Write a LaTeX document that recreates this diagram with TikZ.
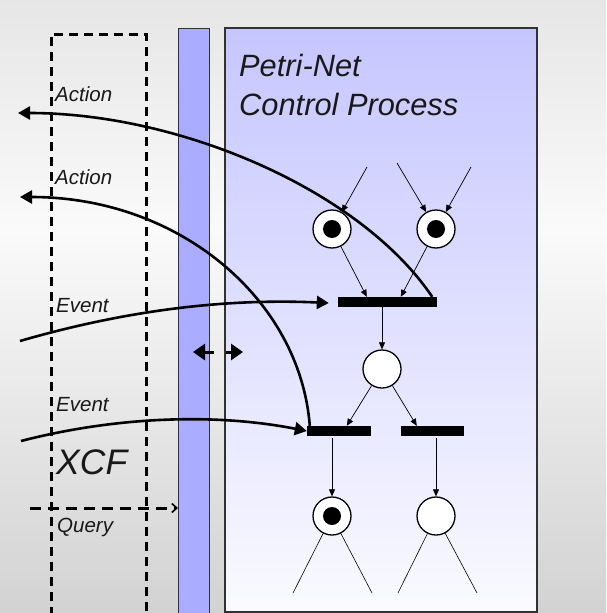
\documentclass[tikz,border=0pt]{standalone}
\usepackage{fontspec}
\setmainfont{Liberation Sans}
\usetikzlibrary{arrows.meta,calc}
\definecolor{bgtop}{RGB}{230,230,230}
\definecolor{bgmid}{RGB}{250,250,250}
\definecolor{bgbot}{RGB}{210,210,210}
\definecolor{barblue}{RGB}{170,172,255}
\definecolor{boxtop}{RGB}{198,198,255}
\definecolor{boxbot}{RGB}{250,250,255}
\definecolor{boxedge}{RGB}{50,50,50}
\begin{document}
\begin{tikzpicture}[x=1pt,y=-1pt,
  place/.style={circle,draw=black,line width=1.3pt,fill=white,minimum size=38pt,inner sep=0pt},
  token/.style={circle,fill=black,minimum size=18pt,inner sep=0pt},
  trans/.style={rectangle,fill=black,minimum height=10pt,inner sep=0pt},
  arc/.style={line width=0.7pt,-{Triangle[length=7pt,width=6pt]}},
  stub/.style={line width=0.6pt},
  bigarrow/.style={line width=2.6pt,-{Triangle[length=12pt,width=13pt]}},
  dblarrow/.style={line width=3pt,-{Triangle[length=12pt,width=16pt]}},
  lbl/.style={inner sep=0pt,anchor=base west,text=black!90,font=\fontsize{20.5}{24}\selectfont\itshape},
  titletext/.style={inner sep=0pt,anchor=base west,text=black!90,font=\fontsize{30.8}{36}\selectfont\itshape},
  xcfline/.style={line width=3pt,dash pattern=on 9pt off 6pt}
]
% background
\shade[top color=bgtop,bottom color=bgmid] (0,0) rectangle (606,230);
\shade[top color=bgmid,bottom color=bgbot] (0,230) rectangle (606,613);
\useasboundingbox (0,0) rectangle (606,613);

% blue bar and main box
\filldraw[fill=barblue,draw=boxedge,line width=1pt] (178,28) rectangle (209,616);
\shade[top color=boxtop,bottom color=boxbot] (225,28) rectangle (537,612);
\draw[boxedge,line width=1.2pt] (225,28) rectangle (537,612);

% title
\node[titletext] (title1) at (239,76) {Petri-Net};
\node[titletext] (title2) at (239,115) {Control Process};

% XCF dashed box
\draw[xcfline] (51,616) -- (51,34) -- (146,34) -- (146,616);

% places
\node[place] (P1) at (332,229) {};
\node[token] (k1) at (P1) {};
\node[place] (P2) at (436,229) {};
\node[token] (k2) at (P2) {};
\node[place] (P3) at (382,369) {};
\node[place] (P4) at (332,516) {};
\node[token] (k4) at (P4) {};
\node[place] (P5) at (436,516) {};

% transitions
\node[trans,minimum width=99pt] (T1) at (387.5,302) {};
\node[trans,minimum width=64pt] (T2) at (339,431) {};
\node[trans,minimum width=63pt] (T3) at (432.5,431) {};

% incoming stubs
\coordinate (i1) at (367,167);
\coordinate (i2) at (397,163);
\coordinate (i3) at (471,167);
\draw[arc] (i1) -- (P1.60);
\draw[arc] (i2) -- (P2.120);
\draw[arc] (i3) -- (P2.60);

% arcs
\draw[arc] (P1.-63) -- ($(T1.north west)+(29,0)$);
\draw[arc] (P2.-117) -- ($(T1.north west)+(63,0)$);
\draw[arc] (T1.south -| P3) -- (P3.north);
\draw[arc] (P3.-122) -- ($(T2.north west)+(40,0)$);
\draw[arc] (P3.-58) -- ($(T3.north west)+(16,0)$);
\draw[arc] ($(T2.south -| P4)+(0,2)$) -- (P4.north);
\draw[arc] ($(T3.south -| P5)+(0,2)$) -- (P5.north);

% outgoing stubs
\coordinate (o1) at (293,593);
\coordinate (o2) at (372,593);
\coordinate (o3) at (398,593);
\coordinate (o4) at (477,593);
\draw[stub] (P4.-117) -- (o1);
\draw[stub] (P4.-63) -- (o2);
\draw[stub] (P5.-116) -- (o3);
\draw[stub] (P5.-62) -- (o4);

% actions
\coordinate (a1) at (18,113);
\draw[bigarrow] ($(T1.north east)+(-5,0)$) .. controls (360,190) and (180,113) .. (a1);
\coordinate (a2) at (20,197);
\draw[bigarrow] ($(T2.north west)+(3,0)$) .. controls (300,300) and (180,197) .. (a2);

% events
\coordinate (e1) at (20,341);
\draw[bigarrow] (e1) .. controls (120,312) and (220,298) .. ($(T1.west)+(-9,1)$);
\coordinate (e2) at (21,441);
\draw[bigarrow] (e2) .. controls (110,418) and (210,412) .. (T2.west);

% double arrow
\coordinate (d1) at (214,352);
\coordinate (d2) at (193,352);
\coordinate (d3) at (226,352);
\coordinate (d4) at (243,352);
\draw[dblarrow] (d1) -- (d2);
\draw[dblarrow] (d3) -- (d4);

% query
\coordinate (q0) at (30,508);
\coordinate (q1) at (178,508);
\draw[line width=3pt,dash pattern=on 11pt off 7pt,-{Straight Barb[length=5pt,width=9pt,line width=1.6pt]}] (q0) -- (q1);

% labels
\node[lbl] (lA1) at (55,101) {Action};
\node[lbl] (lA2) at (55,184) {Action};
\node[lbl] (lE1) at (56,312) {Event};
\node[lbl] (lE2) at (56,411) {Event};
\node[lbl,font=\fontsize{35.5}{40}\selectfont\itshape] (lX) at (56,474) {XCF};
\node[lbl] (lQ) at (57,532) {Query};
\end{tikzpicture}
\end{document}
